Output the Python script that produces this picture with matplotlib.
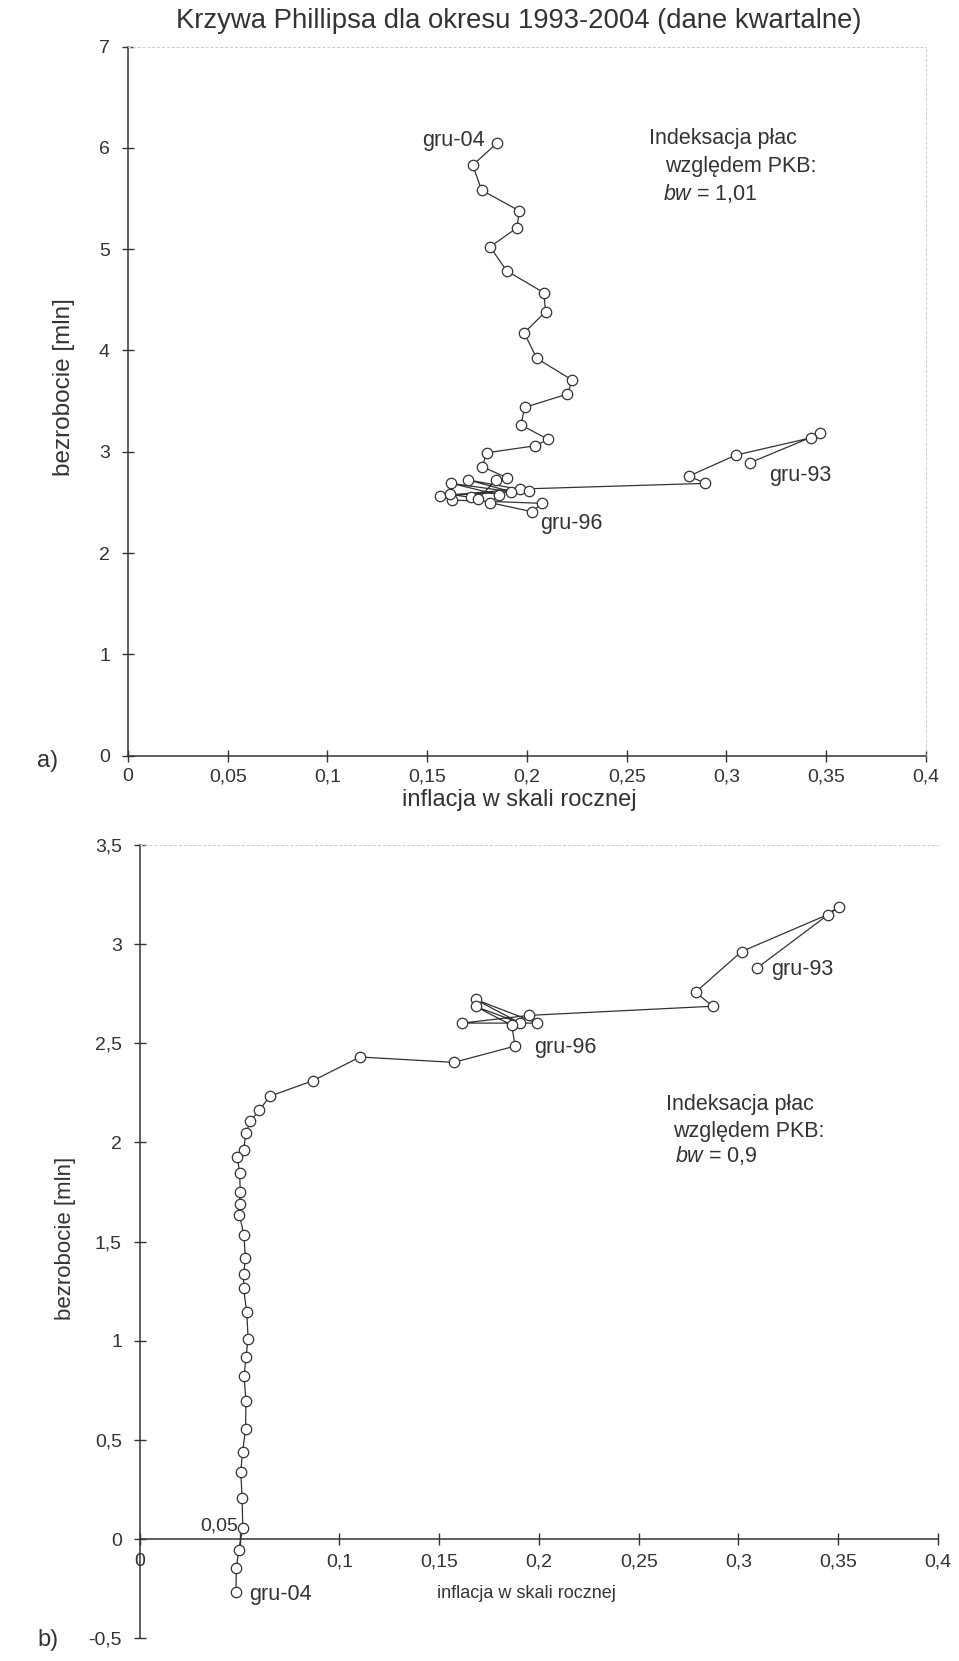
import matplotlib
matplotlib.use("Agg")
import matplotlib.pyplot as plt

plt.rcParams['font.family'] = ['Liberation Sans', 'DejaVu Sans']
plt.rcParams['mathtext.fontset'] = 'custom'
plt.rcParams['mathtext.it'] = 'Liberation Sans:italic'
plt.rcParams['mathtext.rm'] = 'Liberation Sans'

# ---------------- data ----------------
# panel a: bw = 1,01  (inflation, unemployment [mln]) from gru-93 to gru-04
infl_a = [0.3117, 0.3471, 0.3424, 0.3047, 0.2812, 0.2895, 0.1967, 0.1566, 0.2009,
          0.1705, 0.1922, 0.1621, 0.1862, 0.1817, 0.2025, 0.2076, 0.1624, 0.1616,
          0.1717, 0.1755, 0.1843, 0.1901, 0.1776, 0.1798, 0.2041, 0.2107, 0.1970,
          0.1988, 0.2203, 0.2227, 0.2049, 0.1986, 0.2093, 0.2085, 0.1898, 0.1815,
          0.1950, 0.1961, 0.1773, 0.1728, 0.1851]
unemp_a = [2.891, 3.181, 3.138, 2.967, 2.760, 2.688, 2.632, 2.566, 2.612,
           2.722, 2.605, 2.688, 2.573, 2.497, 2.408, 2.491, 2.523, 2.579,
           2.550, 2.533, 2.721, 2.743, 2.852, 2.990, 3.059, 3.122, 3.264,
           3.438, 3.570, 3.708, 3.922, 4.175, 4.382, 4.570, 4.787, 5.024,
           5.211, 5.379, 5.583, 5.830, 6.050]

# panel b: bw = 0,9
infl_b = [0.3095, 0.3503, 0.3448, 0.3016, 0.2785, 0.2871, 0.1951, 0.1614, 0.1990,
          0.1682, 0.1906, 0.1682, 0.1864, 0.1880, 0.1573, 0.1103, 0.0868, 0.0650,
          0.0599, 0.0553, 0.0531, 0.0519, 0.0488, 0.0499, 0.0503, 0.0499, 0.0498,
          0.0521, 0.0528, 0.0520, 0.0519, 0.0535, 0.0542, 0.0531, 0.0522, 0.0531,
          0.0529, 0.0514, 0.0505, 0.0512, 0.0515, 0.0495, 0.0483, 0.0481]
unemp_b = [2.881, 3.189, 3.149, 2.963, 2.758, 2.687, 2.641, 2.602, 2.602,
           2.721, 2.602, 2.686, 2.591, 2.486, 2.404, 2.431, 2.312, 2.233,
           2.163, 2.109, 2.046, 1.962, 1.928, 1.848, 1.749, 1.690, 1.636,
           1.534, 1.417, 1.337, 1.266, 1.145, 1.010, 0.917, 0.821, 0.696,
           0.553, 0.439, 0.341, 0.205, 0.055, -0.054, -0.147, -0.265]

xticks_a = [0, 0.05, 0.1, 0.15, 0.2, 0.25, 0.3, 0.35, 0.4]
xticklabels_a = ["0", "0,05", "0,1", "0,15", "0,2", "0,25", "0,3", "0,35", "0,4"]
yticks_a = [0, 1, 2, 3, 4, 5, 6, 7]
yticklabels_a = ["0", "1", "2", "3", "4", "5", "6", "7"]

xticks_b = [0, 0.05, 0.1, 0.15, 0.2, 0.25, 0.3, 0.35, 0.4]
xticklabels_b = ["0", "", "0,1", "0,15", "0,2", "0,25", "0,3", "0,35", "0,4"]
yticks_b = [-0.5, 0, 0.5, 1, 1.5, 2, 2.5, 3, 3.5]
yticklabels_b = ["-0,5", "0", "0,5", "1", "1,5", "2", "2,5", "3", "3,5"]

INK = "#333333"
FAINT = "#c8c8c8"

fig = plt.figure(figsize=(9.59, 16.61), dpi=100)
fig.patch.set_facecolor("white")

def style_axes(ax):
    for s in ("top", "right"):
        ax.spines[s].set_color(FAINT)
        ax.spines[s].set_linestyle((0, (2, 3)))
        ax.spines[s].set_linewidth(0.7)
    for s in ("left", "bottom"):
        ax.spines[s].set_color(INK)
        ax.spines[s].set_linewidth(1.1)
    ax.tick_params(axis="both", direction="inout", length=8, width=1.0,
                   color=INK, labelcolor=INK, labelsize=14)
    ax.tick_params(axis="y", pad=9)
    ax.tick_params(axis="x", pad=5)

def draw_path(ax, x, y):
    ax.plot(x, y, color=INK, lw=0.9, marker="o", markersize=7.5,
            markerfacecolor="white", markeredgecolor=INK, markeredgewidth=0.9,
            zorder=3, clip_on=False)

# ---------------- panel a ----------------
ax_a = fig.add_axes([0.1335, 0.5451, 0.832, 0.4268])
style_axes(ax_a)
ax_a.set_xlim(0, 0.4)
ax_a.set_ylim(0, 7)
ax_a.set_xticks(xticks_a)
ax_a.set_xticklabels(xticklabels_a)
ax_a.set_yticks(yticks_a)
ax_a.set_yticklabels(yticklabels_a)
draw_path(ax_a, infl_a, unemp_a)

ax_a.text(0.179, 6.077, "gru-04", ha="right", va="center", fontsize=15.5, color=INK)
ax_a.text(0.3215, 2.77, "gru-93", ha="left", va="center", fontsize=15.5, color=INK)
ax_a.text(0.2068, 2.296, "gru-96", ha="left", va="center", fontsize=15.5, color=INK)
ax_a.text(0.261, 6.097, "Indeksacja płac", ha="left", va="center", fontsize=15.5, color=INK)
ax_a.text(0.269, 5.82, "względem PKB:", ha="left", va="center", fontsize=15.5, color=INK)
ax_a.text(0.268, 5.55, r"$bw$ = 1,01", ha="left", va="center", fontsize=15.5, color=INK)

ax_a.text(0.49, -0.062, "inflacja w skali rocznej", transform=ax_a.transAxes,
          ha="center", va="center", fontsize=17, color=INK)
ax_a.text(-0.08, 0.52, "bezrobocie [mln]", transform=ax_a.transAxes, rotation=90,
          ha="center", va="center", fontsize=17.5, color=INK)

# ---------------- panel b ----------------
ax_b = fig.add_axes([0.146, 0.01367, 0.832, 0.4776])
style_axes(ax_b)
ax_b.spines["bottom"].set_position(("data", 0))
ax_b.spines["right"].set_visible(False)
ax_b.set_xlim(0, 0.4)
ax_b.set_ylim(-0.5, 3.5)
ax_b.set_xticks(xticks_b)
ax_b.set_xticklabels(xticklabels_b)
ax_b.set_yticks(yticks_b)
ax_b.set_yticklabels(yticklabels_b)
ax_b.tick_params(axis="x", pad=6)
draw_path(ax_b, infl_b, unemp_b)

ax_b.text(0.3165, 2.872, "gru-93", ha="left", va="center", fontsize=15.5, color=INK)
ax_b.text(0.1978, 2.48, "gru-96", ha="left", va="center", fontsize=15.5, color=INK)
ax_b.text(0.0547, -0.277, "gru-04", ha="left", va="center", fontsize=15.5, color=INK)
ax_b.text(0.0493, 0.064, "0,05", ha="right", va="center", fontsize=14, color=INK)
ax_b.text(0.2637, 2.193, "Indeksacja płac", ha="left", va="center", fontsize=15.5, color=INK)
ax_b.text(0.267, 2.057, "względem PKB:", ha="left", va="center", fontsize=15.5, color=INK)
ax_b.text(0.268, 1.932, r"$bw$ = 0,9", ha="left", va="center", fontsize=15.5, color=INK)

ax_b.text(0.484, 0.057, "inflacja w skali rocznej", transform=ax_b.transAxes,
          ha="center", va="center", fontsize=13, color=INK)
ax_b.text(-0.094, 0.5046, "bezrobocie [mln]", transform=ax_b.transAxes, rotation=90,
          ha="center", va="center", fontsize=16, color=INK)

# ---------------- figure texts ----------------
fig.text(0.541, 0.9874, "Krzywa Phillipsa dla okresu 1993-2004 (dane kwartalne)",
         ha="center", va="center", fontsize=19.8, color=INK)
fig.text(0.05, 0.5418, "a)", ha="center", va="center", fontsize=17, color=INK)
fig.text(0.05, 0.0126, "b)", ha="center", va="center", fontsize=17, color=INK)

fig.savefig("out.png", dpi=100, facecolor="white")
